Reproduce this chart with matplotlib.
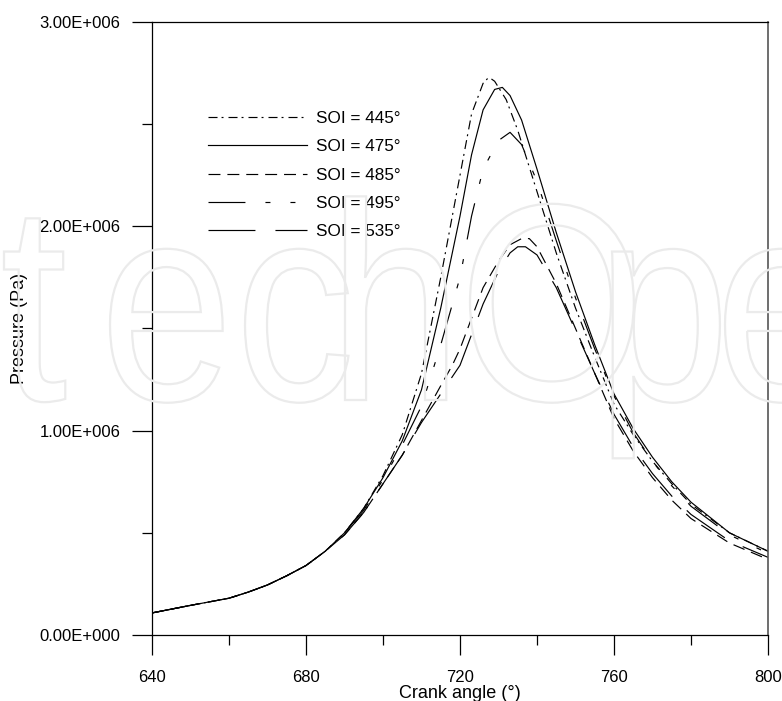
import matplotlib
matplotlib.use("Agg")
import matplotlib.pyplot as plt
from matplotlib.textpath import TextPath
from matplotlib.patches import PathPatch
from matplotlib.font_manager import FontProperties
from matplotlib.transforms import Affine2D, IdentityTransform
from matplotlib.ticker import MultipleLocator, FuncFormatter

plt.rcParams['font.family'] = ['Liberation Sans', 'DejaVu Sans']
plt.rcParams['lines.scale_dashes'] = False

# pressure traces (Pa, in units of 1e6) versus crank angle for each injection timing
ang_445 = [640, 650, 660, 665, 670, 675, 680, 685, 690, 695, 700, 705, 710, 715, 720, 723, 726, 727.5, 729, 732, 735, 740, 745, 750, 755, 760, 765, 770, 775, 780, 790, 800]
p_445 = [0.108, 0.145, 0.18, 0.21, 0.245, 0.29, 0.34, 0.41, 0.50, 0.62, 0.78, 0.98, 1.28, 1.75, 2.25, 2.55, 2.70, 2.73, 2.71, 2.62, 2.47, 2.17, 1.87, 1.60, 1.36, 1.13, 0.98, 0.85, 0.74, 0.64, 0.50, 0.41]

ang_475 = [640, 650, 660, 665, 670, 675, 680, 685, 690, 695, 700, 705, 710, 715, 720, 723, 726, 729, 731, 733, 736, 740, 745, 750, 755, 760, 765, 770, 775, 780, 790, 800]
p_475 = [0.108, 0.145, 0.18, 0.21, 0.245, 0.29, 0.34, 0.41, 0.50, 0.62, 0.77, 0.95, 1.20, 1.60, 2.05, 2.35, 2.57, 2.67, 2.68, 2.64, 2.52, 2.28, 1.97, 1.68, 1.42, 1.18, 1.01, 0.87, 0.75, 0.65, 0.50, 0.41]

ang_485 = [640, 650, 660, 665, 670, 675, 680, 685, 690, 695, 700, 705, 710, 715, 718, 720, 723, 726, 730, 733, 736, 738, 740, 745, 750, 755, 760, 765, 770, 775, 780, 790, 800]
p_485 = [0.108, 0.145, 0.18, 0.21, 0.245, 0.29, 0.34, 0.41, 0.49, 0.60, 0.74, 0.88, 1.05, 1.22, 1.32, 1.40, 1.55, 1.70, 1.83, 1.91, 1.94, 1.94, 1.90, 1.72, 1.50, 1.28, 1.06, 0.90, 0.77, 0.66, 0.57, 0.45, 0.37]

ang_495 = [640, 650, 660, 665, 670, 675, 680, 685, 690, 695, 700, 705, 710, 715, 720, 723, 726, 730, 733, 736, 740, 745, 750, 755, 760, 765, 770, 775, 780, 790, 800]
p_495 = [0.108, 0.145, 0.18, 0.21, 0.245, 0.29, 0.34, 0.41, 0.50, 0.61, 0.76, 0.93, 1.12, 1.42, 1.75, 2.05, 2.28, 2.42, 2.46, 2.40, 2.22, 1.93, 1.65, 1.40, 1.17, 0.99, 0.85, 0.73, 0.63, 0.49, 0.40]

ang_535 = [640, 650, 660, 665, 670, 675, 680, 685, 690, 695, 700, 705, 710, 715, 720, 723, 726, 730, 733, 735, 737, 740, 745, 750, 755, 760, 765, 770, 775, 780, 790, 800]
p_535 = [0.108, 0.145, 0.18, 0.21, 0.245, 0.29, 0.34, 0.41, 0.49, 0.60, 0.74, 0.88, 1.04, 1.18, 1.32, 1.47, 1.62, 1.78, 1.87, 1.90, 1.90, 1.86, 1.70, 1.49, 1.28, 1.08, 0.92, 0.79, 0.68, 0.59, 0.46, 0.38]

labels = ['SOI = 445°', 'SOI = 475°', 'SOI = 485°', 'SOI = 495°', 'SOI = 535°']

fig = plt.figure(figsize=(7.82, 7.01), dpi=100)

# faint publisher mark behind everything, drawn letter by letter in pixel space
fp = FontProperties(family='Liberation Sans')
wm_letters = ['t', 'e', 'c', 'h', 'O', 'p', 'e']
wm_left = [4, 110, 245, 345, 470, 612, 725]
for ch, x0 in zip(wm_letters, wm_left):
    tp = TextPath((0, 0), ch, size=1, prop=fp)
    ext = tp.get_extents()
    tr = Affine2D().translate(-ext.x0, 0).scale(240, 281).translate(x0, 701 - 400)
    wm = PathPatch(tr.transform_path(tp), facecolor='none', edgecolor='#ebebeb', lw=1.6, zorder=0)
    wm.set_transform(IdentityTransform())
    fig.patches.append(wm)

ax = fig.add_axes([152 / 782, 1 - 635 / 701, 616 / 782, 613 / 701])
ax.set_facecolor('none')

lw = 0.85
ax.plot(ang_445, [v * 1e6 for v in p_445], color='black', lw=lw, dashes=(6.5, 2.9, 1.4, 3.6), label=labels[0])
ax.plot(ang_475, [v * 1e6 for v in p_475], color='black', lw=lw, label=labels[1])
ax.plot(ang_485, [v * 1e6 for v in p_485], color='black', lw=lw, dashes=(8.6, 5.0), label=labels[2])
ax.plot(ang_495, [v * 1e6 for v in p_495], color='black', lw=lw, dashes=(26.6, 14.4, 3.6, 14.4, 3.6, 14.4), label=labels[3])
ax.plot(ang_535, [v * 1e6 for v in p_535], color='black', lw=lw, dashes=(33.8, 14.4), label=labels[4])

ax.set_xlim(640, 800)
ax.set_ylim(0, 3e6)
ax.xaxis.set_major_locator(MultipleLocator(40))
ax.xaxis.set_minor_locator(MultipleLocator(20))
ax.yaxis.set_major_locator(MultipleLocator(1e6))
ax.yaxis.set_minor_locator(MultipleLocator(0.5e6))
ax.yaxis.set_major_formatter(FuncFormatter(lambda v, p: '%.2fE+006' % (v / 1e6) if v else '0.00E+000'))

ax.tick_params(which='major', direction='out', length=14.4, width=0.9, labelsize=12, top=False, right=False)
ax.tick_params(which='minor', direction='out', length=7.4, width=0.9, top=False, right=False)
ax.tick_params(axis='x', which='major', pad=11)
ax.tick_params(axis='y', which='major', pad=8.5)

for s in ['left', 'bottom', 'top']:
    ax.spines[s].set_linewidth(0.9)
    ax.spines[s].set_color('black')
ax.spines['right'].set_linewidth(1.2)
ax.spines['right'].set_color('#555555')

ax.set_xlabel('Crank angle (°)', fontsize=13, labelpad=0)
ax.set_ylabel('Pressure (Pa)', fontsize=13, labelpad=8)

ax.legend(loc='upper left', bbox_to_anchor=(208 / 782, 1 - 111 / 701), bbox_transform=fig.transFigure,
          frameon=False, fontsize=12.3, handlelength=5.8, handletextpad=0.55, labelspacing=0.78,
          borderpad=0, borderaxespad=0)

fig.savefig('out.png', dpi=100)
